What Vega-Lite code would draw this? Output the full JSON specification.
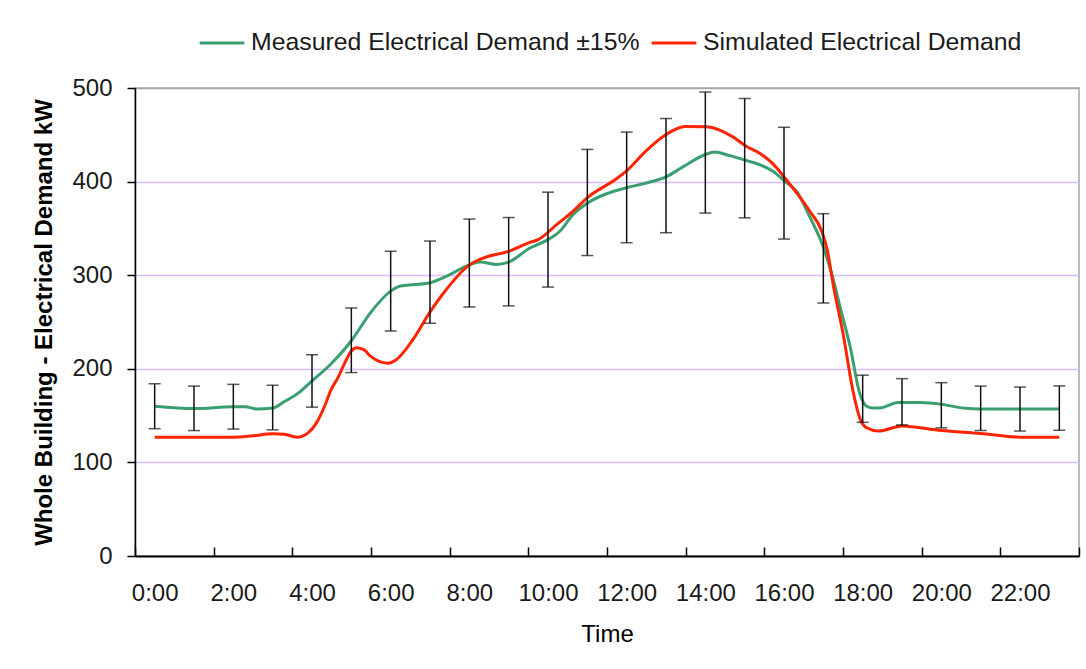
{
  "$schema": "https://vega.github.io/schema/vega-lite/v6.json",
  "autosize": {"type": "none"},
  "width": 944,
  "height": 468,
  "padding": {"left": 135, "top": 88, "right": 7, "bottom": 113},
  "background": "white",
  "config": {
    "font": "Liberation Sans",
    "view": {"stroke": "#a6a6a6", "strokeWidth": 1.5},
    "axis": {"labelFont": "Liberation Sans", "titleFont": "Liberation Sans", "labelColor": "#1a1a1a", "titleColor": "#000000"}
  },
  "datasets": {
    "lines": [
      {"h": 0, "v": 160, "series": "Measured Electrical Demand ±15%"},
      {"h": 1, "v": 157.5, "series": "Measured Electrical Demand ±15%"},
      {"h": 2, "v": 159.5, "series": "Measured Electrical Demand ±15%"},
      {"h": 2.3, "v": 159.5, "series": "Measured Electrical Demand ±15%"},
      {"h": 2.6, "v": 157, "series": "Measured Electrical Demand ±15%"},
      {"h": 3, "v": 158, "series": "Measured Electrical Demand ±15%"},
      {"h": 3.3, "v": 165, "series": "Measured Electrical Demand ±15%"},
      {"h": 3.65, "v": 174, "series": "Measured Electrical Demand ±15%"},
      {"h": 4, "v": 187, "series": "Measured Electrical Demand ±15%"},
      {"h": 4.5, "v": 206, "series": "Measured Electrical Demand ±15%"},
      {"h": 5, "v": 230, "series": "Measured Electrical Demand ±15%"},
      {"h": 5.47, "v": 259, "series": "Measured Electrical Demand ±15%"},
      {"h": 6, "v": 283, "series": "Measured Electrical Demand ±15%"},
      {"h": 6.25, "v": 288.5, "series": "Measured Electrical Demand ±15%"},
      {"h": 6.6, "v": 290, "series": "Measured Electrical Demand ±15%"},
      {"h": 7, "v": 292, "series": "Measured Electrical Demand ±15%"},
      {"h": 7.42, "v": 299, "series": "Measured Electrical Demand ±15%"},
      {"h": 8, "v": 311, "series": "Measured Electrical Demand ±15%"},
      {"h": 8.27, "v": 314, "series": "Measured Electrical Demand ±15%"},
      {"h": 8.69, "v": 311.5, "series": "Measured Electrical Demand ±15%"},
      {"h": 9, "v": 314, "series": "Measured Electrical Demand ±15%"},
      {"h": 9.54, "v": 329, "series": "Measured Electrical Demand ±15%"},
      {"h": 10, "v": 338, "series": "Measured Electrical Demand ±15%"},
      {"h": 10.3, "v": 347, "series": "Measured Electrical Demand ±15%"},
      {"h": 10.64, "v": 365, "series": "Measured Electrical Demand ±15%"},
      {"h": 11, "v": 377, "series": "Measured Electrical Demand ±15%"},
      {"h": 11.49, "v": 387, "series": "Measured Electrical Demand ±15%"},
      {"h": 12, "v": 393.5, "series": "Measured Electrical Demand ±15%"},
      {"h": 12.5, "v": 398.5, "series": "Measured Electrical Demand ±15%"},
      {"h": 13, "v": 405, "series": "Measured Electrical Demand ±15%"},
      {"h": 13.44, "v": 416, "series": "Measured Electrical Demand ±15%"},
      {"h": 14, "v": 429, "series": "Measured Electrical Demand ±15%"},
      {"h": 14.24, "v": 431.5, "series": "Measured Electrical Demand ±15%"},
      {"h": 14.6, "v": 428, "series": "Measured Electrical Demand ±15%"},
      {"h": 15, "v": 423, "series": "Measured Electrical Demand ±15%"},
      {"h": 15.39, "v": 418, "series": "Measured Electrical Demand ±15%"},
      {"h": 15.72, "v": 411, "series": "Measured Electrical Demand ±15%"},
      {"h": 16, "v": 401, "series": "Measured Electrical Demand ±15%"},
      {"h": 16.32, "v": 389.5, "series": "Measured Electrical Demand ±15%"},
      {"h": 16.66, "v": 362, "series": "Measured Electrical Demand ±15%"},
      {"h": 17, "v": 330, "series": "Measured Electrical Demand ±15%"},
      {"h": 17.21, "v": 302, "series": "Measured Electrical Demand ±15%"},
      {"h": 17.42, "v": 267, "series": "Measured Electrical Demand ±15%"},
      {"h": 17.68, "v": 224, "series": "Measured Electrical Demand ±15%"},
      {"h": 17.93, "v": 173, "series": "Measured Electrical Demand ±15%"},
      {"h": 18.1, "v": 160, "series": "Measured Electrical Demand ±15%"},
      {"h": 18.27, "v": 158, "series": "Measured Electrical Demand ±15%"},
      {"h": 18.48, "v": 158.5, "series": "Measured Electrical Demand ±15%"},
      {"h": 18.9, "v": 164, "series": "Measured Electrical Demand ±15%"},
      {"h": 19.46, "v": 164, "series": "Measured Electrical Demand ±15%"},
      {"h": 20.02, "v": 162, "series": "Measured Electrical Demand ±15%"},
      {"h": 20.56, "v": 158, "series": "Measured Electrical Demand ±15%"},
      {"h": 21, "v": 157, "series": "Measured Electrical Demand ±15%"},
      {"h": 22, "v": 157, "series": "Measured Electrical Demand ±15%"},
      {"h": 23, "v": 157, "series": "Measured Electrical Demand ±15%"},
      {"h": 0, "v": 127, "series": "Simulated Electrical Demand"},
      {"h": 1, "v": 127, "series": "Simulated Electrical Demand"},
      {"h": 2, "v": 127, "series": "Simulated Electrical Demand"},
      {"h": 2.5, "v": 128.5, "series": "Simulated Electrical Demand"},
      {"h": 3, "v": 130.5, "series": "Simulated Electrical Demand"},
      {"h": 3.3, "v": 130, "series": "Simulated Electrical Demand"},
      {"h": 3.62, "v": 127, "series": "Simulated Electrical Demand"},
      {"h": 3.9, "v": 131.5, "series": "Simulated Electrical Demand"},
      {"h": 4.11, "v": 142, "series": "Simulated Electrical Demand"},
      {"h": 4.32, "v": 160, "series": "Simulated Electrical Demand"},
      {"h": 4.49, "v": 178, "series": "Simulated Electrical Demand"},
      {"h": 4.66, "v": 190.5, "series": "Simulated Electrical Demand"},
      {"h": 4.83, "v": 206, "series": "Simulated Electrical Demand"},
      {"h": 5, "v": 219, "series": "Simulated Electrical Demand"},
      {"h": 5.13, "v": 222.5, "series": "Simulated Electrical Demand"},
      {"h": 5.34, "v": 220, "series": "Simulated Electrical Demand"},
      {"h": 5.47, "v": 214, "series": "Simulated Electrical Demand"},
      {"h": 5.93, "v": 206, "series": "Simulated Electrical Demand"},
      {"h": 6.15, "v": 210, "series": "Simulated Electrical Demand"},
      {"h": 6.57, "v": 231.5, "series": "Simulated Electrical Demand"},
      {"h": 6.99, "v": 260, "series": "Simulated Electrical Demand"},
      {"h": 7.42, "v": 285, "series": "Simulated Electrical Demand"},
      {"h": 7.97, "v": 310, "series": "Simulated Electrical Demand"},
      {"h": 8.27, "v": 317, "series": "Simulated Electrical Demand"},
      {"h": 9.03, "v": 326, "series": "Simulated Electrical Demand"},
      {"h": 9.54, "v": 335, "series": "Simulated Electrical Demand"},
      {"h": 9.75, "v": 338, "series": "Simulated Electrical Demand"},
      {"h": 10.22, "v": 354, "series": "Simulated Electrical Demand"},
      {"h": 10.64, "v": 368.5, "series": "Simulated Electrical Demand"},
      {"h": 11.02, "v": 383.5, "series": "Simulated Electrical Demand"},
      {"h": 11.74, "v": 403, "series": "Simulated Electrical Demand"},
      {"h": 12.01, "v": 412, "series": "Simulated Electrical Demand"},
      {"h": 12.5, "v": 433, "series": "Simulated Electrical Demand"},
      {"h": 13.01, "v": 450.5, "series": "Simulated Electrical Demand"},
      {"h": 13.48, "v": 459, "series": "Simulated Electrical Demand"},
      {"h": 14.03, "v": 458.5, "series": "Simulated Electrical Demand"},
      {"h": 14.71, "v": 447.5, "series": "Simulated Electrical Demand"},
      {"h": 15.05, "v": 437.5, "series": "Simulated Electrical Demand"},
      {"h": 15.39, "v": 430, "series": "Simulated Electrical Demand"},
      {"h": 15.72, "v": 419, "series": "Simulated Electrical Demand"},
      {"h": 16.06, "v": 402, "series": "Simulated Electrical Demand"},
      {"h": 16.32, "v": 388, "series": "Simulated Electrical Demand"},
      {"h": 16.66, "v": 368, "series": "Simulated Electrical Demand"},
      {"h": 16.96, "v": 347, "series": "Simulated Electrical Demand"},
      {"h": 17.1, "v": 327, "series": "Simulated Electrical Demand"},
      {"h": 17.25, "v": 290, "series": "Simulated Electrical Demand"},
      {"h": 17.5, "v": 238, "series": "Simulated Electrical Demand"},
      {"h": 17.76, "v": 175, "series": "Simulated Electrical Demand"},
      {"h": 17.93, "v": 147, "series": "Simulated Electrical Demand"},
      {"h": 18.1, "v": 137, "series": "Simulated Electrical Demand"},
      {"h": 18.4, "v": 133.5, "series": "Simulated Electrical Demand"},
      {"h": 19, "v": 139, "series": "Simulated Electrical Demand"},
      {"h": 20, "v": 134, "series": "Simulated Electrical Demand"},
      {"h": 21, "v": 131, "series": "Simulated Electrical Demand"},
      {"h": 22, "v": 127, "series": "Simulated Electrical Demand"},
      {"h": 23, "v": 127, "series": "Simulated Electrical Demand"}
    ],
    "bars": [
      {"h": 0, "lo": 136, "hi": 184},
      {"h": 1, "lo": 134, "hi": 181.5},
      {"h": 2, "lo": 135.6, "hi": 183.4},
      {"h": 3, "lo": 134.8, "hi": 182.4},
      {"h": 4, "lo": 159, "hi": 215},
      {"h": 5, "lo": 196, "hi": 265},
      {"h": 6, "lo": 240.5, "hi": 325.5},
      {"h": 7, "lo": 248.7, "hi": 336.5},
      {"h": 8, "lo": 266, "hi": 360},
      {"h": 9, "lo": 267.2, "hi": 361.6},
      {"h": 10, "lo": 287.3, "hi": 388.7},
      {"h": 11, "lo": 321, "hi": 434.4},
      {"h": 12, "lo": 334.7, "hi": 452.9},
      {"h": 13, "lo": 345.4, "hi": 467.4},
      {"h": 14, "lo": 366.4, "hi": 495.7},
      {"h": 15, "lo": 361.3, "hi": 488.8},
      {"h": 16, "lo": 338.6, "hi": 458},
      {"h": 17, "lo": 270.3, "hi": 365.7},
      {"h": 18, "lo": 142.8, "hi": 193.2},
      {"h": 19, "lo": 140, "hi": 189.5},
      {"h": 20, "lo": 136.9, "hi": 185.2},
      {"h": 21, "lo": 134.1, "hi": 181.5},
      {"h": 22, "lo": 133.5, "hi": 180.5},
      {"h": 23, "lo": 134.3, "hi": 181.7}
    ]
  },
  "encoding": {
    "x": {
      "field": "h", "type": "quantitative",
      "scale": {"domain": [-0.5, 23.5], "nice": false, "zero": false},
      "axis": {
        "title": "Time",
        "titleFontSize": 24, "titleFontWeight": "normal", "titlePadding": 17,
        "values": [-0.5, 0, 1.5, 2, 3.5, 4, 5.5, 6, 7.5, 8, 9.5, 10, 11.5, 12, 13.5, 14, 15.5, 16, 17.5, 18, 19.5, 20, 21.5, 22, 23.5],
        "labelExpr": "datum.value % 2 === 0 ? datum.value + ':00' : ''",
        "labelFontSize": 24, "labelOverlap": false, "labelFlush": false, "labelPadding": 34, "labelColor": "#1a1a1a",
        "tickSize": -9, "tickWidth": 1.5,
        "tickColor": {"condition": {"test": "datum.value % 1 === 0", "value": "transparent"}, "value": "#000000"},
        "domainColor": "#000000", "domainWidth": 2,
        "grid": false
      }
    }
  },
  "layer": [
    {
      "data": {"name": "lines"},
      "mark": {"type": "line", "strokeWidth": 3, "interpolate": "monotone"},
      "encoding": {
        "y": {
          "field": "v", "type": "quantitative",
          "scale": {"domain": [0, 500], "nice": false},
          "axis": {
            "title": "Whole Building - Electrical Demand kW",
            "titleFontSize": 24, "titleFontWeight": "bold", "titlePadding": 15,
            "values": [0, 100, 200, 300, 400, 500],
            "labelFontSize": 24, "labelPadding": 15,
            "tickSize": 8, "tickColor": "#000000", "tickWidth": 1.5,
            "domainColor": "#000000", "domainWidth": 1.5,
            "grid": true,
            "gridColor": {"condition": {"test": "datum.value === 500", "value": "#a6a6a6"}, "value": "#d8bcff"},
            "gridWidth": 1.5
          }
        },
        "color": {
          "field": "series", "type": "nominal",
          "scale": {"domain": ["Measured Electrical Demand ±15%", "Simulated Electrical Demand"], "range": ["#3a9f70", "#ff2400"]},
          "legend": {
            "orient": "none", "legendX": 63, "legendY": -69,
            "direction": "horizontal", "title": null,
            "symbolType": "stroke", "symbolSize": 2000, "symbolStrokeWidth": 3,
            "labelFontSize": 24.8, "labelColor": "#1a1a1a", "labelOffset": 5,
            "columnPadding": 5, "labelLimit": 500
          }
        }
      }
    },
    {
      "data": {"name": "bars"},
      "mark": {"type": "rule", "color": "#111111", "strokeWidth": 1.5},
      "encoding": {
        "y": {"field": "lo", "type": "quantitative"},
        "y2": {"field": "hi"}
      }
    },
    {
      "data": {"name": "bars"},
      "mark": {"type": "tick", "color": "#111111", "orient": "horizontal", "size": 12, "thickness": 1.5},
      "encoding": {
        "y": {"field": "lo", "type": "quantitative"}
      }
    },
    {
      "data": {"name": "bars"},
      "mark": {"type": "tick", "color": "#111111", "orient": "horizontal", "size": 12, "thickness": 1.5},
      "encoding": {
        "y": {"field": "hi", "type": "quantitative"}
      }
    }
  ]
}
